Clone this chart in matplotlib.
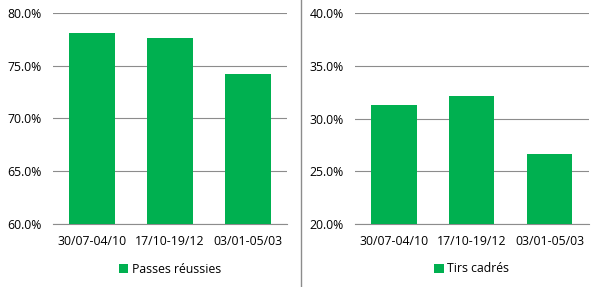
import matplotlib
matplotlib.use("Agg")
import matplotlib.pyplot as plt
from matplotlib.patches import Patch
from matplotlib.lines import Line2D
from matplotlib.ticker import FuncFormatter

plt.rcParams['font.family'] = ['Open Sans', 'DejaVu Sans']

categories = ["30/07-04/10", "17/10-19/12", "03/01-05/03"]
passes = [78.05, 77.6, 74.2]
tirs = [31.3, 32.2, 26.65]
series_names = ["Passes réussies", "Tirs cadrés"]

green = "#00B050"
grid = "#8c8c8c"

fig = plt.figure(figsize=(5.99, 2.87), dpi=100)
fig.patch.set_facecolor("white")

def panel(rect, values, ylim, name):
    ax = fig.add_axes(rect)
    x = range(len(categories))
    ax.bar(x, values, width=0.58, color=green, zorder=3)
    ax.set_xlim(-0.5, len(categories) - 0.5)
    ax.set_ylim(*ylim)
    ax.set_yticks([ylim[0] + 5 * i for i in range(5)])
    ax.yaxis.set_major_formatter(FuncFormatter(lambda v, p: f"{v:.1f}%"))
    ax.set_xticks(list(x))
    ax.set_xticklabels(categories)
    ax.grid(axis="y", color=grid, linewidth=0.8, zorder=0)
    for s in ["left", "right", "top"]:
        ax.spines[s].set_visible(False)
    ax.spines["bottom"].set_color(grid)
    ax.spines["bottom"].set_linewidth(0.8)
    ax.tick_params(axis="both", length=0, labelsize=8.8, colors="black")
    ax.tick_params(axis="y", pad=8)
    ax.tick_params(axis="x", pad=8)
    ax.legend(handles=[Patch(facecolor=green, edgecolor="none", label=name)],
              loc="center", bbox_to_anchor=(0.5, -0.213), frameon=False,
              fontsize=8.8, handlelength=0.75, handleheight=0.75,
              handletextpad=0.3)
    return ax

panel([0.0885, 0.2195, 0.3907, 0.7362], passes, (60, 80), series_names[0])
panel([0.5927, 0.2195, 0.3900, 0.734], tirs, (20, 40), series_names[1])

fig.add_artist(Line2D([301 / 599, 301 / 599], [0, 1], color="#8c8c8c",
                      linewidth=1.0, transform=fig.transFigure))

fig.savefig("out.png", dpi=100)
